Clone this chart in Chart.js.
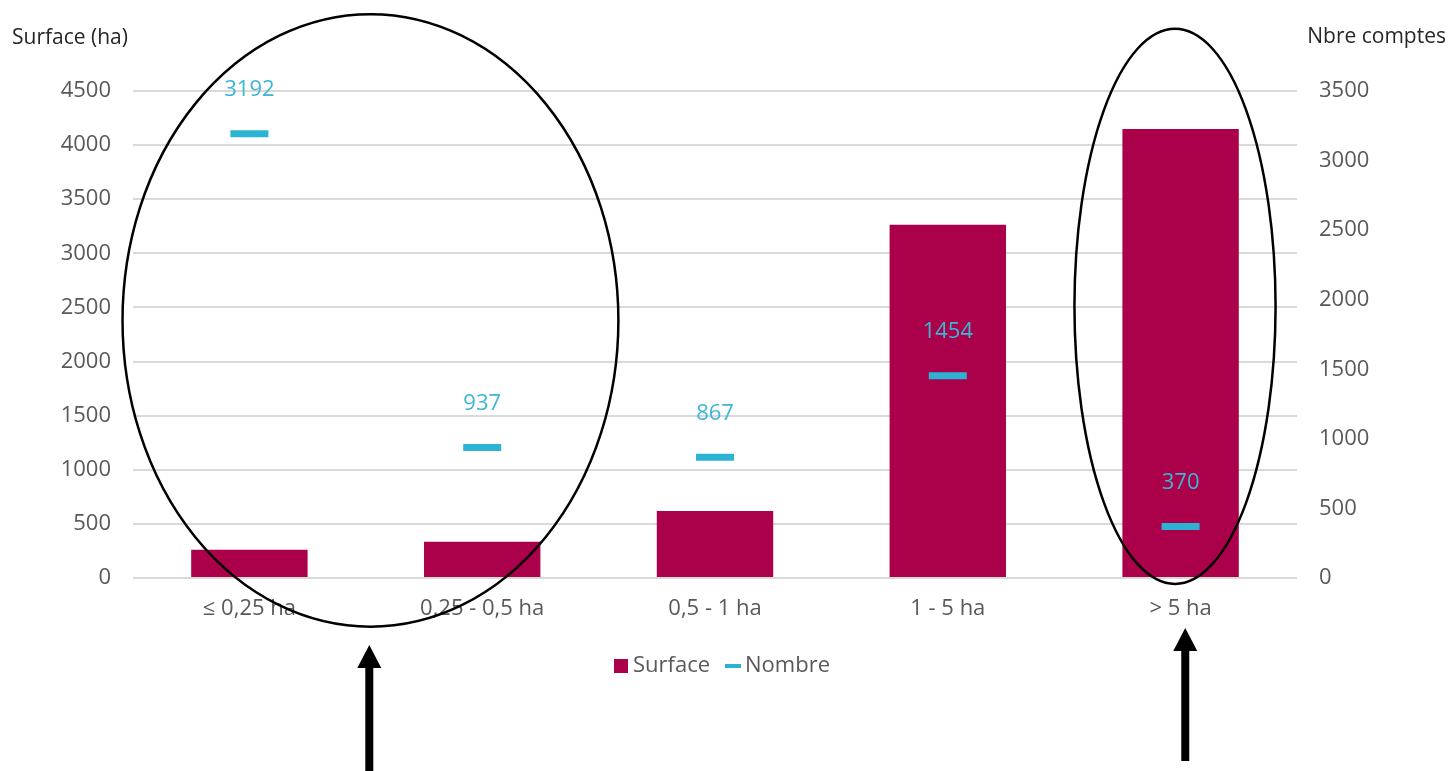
<!DOCTYPE html>
<html>
<head>
<meta charset="utf-8">
<script src="https://cdn.jsdelivr.net/npm/chart.js@4.4.1/dist/chart.umd.min.js"></script>
<style>
  html, body { margin: 0; padding: 0; background: #fff; }
</style>
</head>
<body>
<canvas id="chart" width="1450" height="771"></canvas>
<script>
// data
const categories = ["≤ 0,25 ha", "0,25 - 0,5 ha", "0,5 - 1 ha", "1 - 5 ha", "> 5 ha"];
const surface = [260, 335, 620, 3265, 4150];
const nombre = [3192, 937, 867, 1454, 370];
const surfaceTicks = [0, 500, 1000, 1500, 2000, 2500, 3000, 3500, 4000, 4500];
const nombreTicks = [0, 500, 1000, 1500, 2000, 2500, 3000, 3500];

// hand drawn notes, in category index / left axis units
const ellipses = [
  { cx: 0.52, cy: 2380, rx: 1.065, ry: 2830 },
  { cx: 3.976, cy: 2510, rx: 0.432, ry: 2565 },
];
const arrows = [
  { x: 0.515, tipBelow: 67, tail: 771 },
  { x: 4.02, tipBelow: 50, tail: 761 },
];

const MAGENTA = "#ab004a";
const CYAN = "#2cb3d3";
const GREY = "#595959";
const FONT = "'Open Sans', sans-serif";

function legendIcon(w, h, color) {
  const c = document.createElement("canvas");
  c.width = w;
  c.height = h;
  const g = c.getContext("2d");
  g.fillStyle = color;
  g.fillRect(0, 0, w, h);
  return c;
}
const squareIcon = legendIcon(14, 14, MAGENTA);
const dashIcon = legendIcon(16, 4, CYAN);

const notesPlugin = {
  id: "notes",
  afterDatasetsDraw(chart) {
    const ctx = chart.ctx;
    const meta = chart.getDatasetMeta(1);
    ctx.save();
    ctx.font = "22px " + FONT;
    ctx.fillStyle = "#3bb6d6";
    ctx.textAlign = "center";
    ctx.textBaseline = "middle";
    meta.data.forEach((pt, i) => {
      ctx.fillText(String(nombre[i]), pt.x, pt.y - 44);
    });
    ctx.restore();
  },
  afterDraw(chart) {
    const ctx = chart.ctx;
    const xs = chart.scales.x;
    const ys = chart.scales.y;
    const step = xs.getPixelForValue(1) - xs.getPixelForValue(0);
    const unit = (ys.getPixelForValue(0) - ys.getPixelForValue(1000)) / 1000;
    ctx.save();

    // axis titles
    ctx.font = "21px " + FONT;
    ctx.fillStyle = "#262626";
    ctx.textBaseline = "middle";
    ctx.textAlign = "left";
    ctx.fillText("Surface (ha)", 12, 38);
    ctx.textAlign = "right";
    ctx.fillText("Nbre comptes", 1446, 37);

    // ellipses
    ctx.strokeStyle = "#000";
    ctx.lineWidth = 2.5;
    ellipses.forEach(e => {
      ctx.beginPath();
      ctx.ellipse(xs.getPixelForValue(e.cx), ys.getPixelForValue(e.cy),
        e.rx * step, e.ry * unit, 0, 0, Math.PI * 2);
      ctx.stroke();
    });

    // arrows
    ctx.fillStyle = "#000";
    arrows.forEach(a => {
      const x = xs.getPixelForValue(a.x);
      const tip = ys.getPixelForValue(0) + a.tipBelow;
      ctx.fillRect(x - 4, tip + 20, 8, a.tail - tip - 20);
      ctx.beginPath();
      ctx.moveTo(x, tip);
      ctx.lineTo(x + 12, tip + 23);
      ctx.lineTo(x - 12, tip + 23);
      ctx.closePath();
      ctx.fill();
    });
    ctx.restore();
  }
};

const ctx = document.getElementById("chart").getContext("2d");
new Chart(ctx, {
  data: {
    labels: categories,
    datasets: [
      {
        type: "bar",
        label: "Surface",
        data: surface,
        yAxisID: "y",
        backgroundColor: MAGENTA,
        categoryPercentage: 1,
        barPercentage: 0.5,
        order: 1,
      },
      {
        type: "line",
        label: "Nombre",
        data: nombre,
        yAxisID: "y1",
        showLine: false,
        pointStyle: "line",
        pointRadius: 19,
        pointHoverRadius: 19,
        pointBorderWidth: 7,
        pointHoverBorderWidth: 7,
        pointBorderColor: CYAN,
        pointBackgroundColor: CYAN,
        order: 0,
      },
    ],
  },
  options: {
    responsive: false,
    animation: false,
    devicePixelRatio: 1,
    layout: { padding: { top: 91, bottom: 84, left: 0, right: 0 } },
    plugins: {
      tooltip: { enabled: false },
      legend: {
        position: "bottom",
        labels: {
          usePointStyle: true,
          pointStyleWidth: 2,
          boxHeight: 14,
          padding: 22,
          color: GREY,
          font: { family: FONT, size: 22 },
          generateLabels(chart) {
            const items = Chart.defaults.plugins.legend.labels.generateLabels(chart);
            items.sort((a, b) => a.datasetIndex - b.datasetIndex);
            items.forEach(it => {
              it.pointStyle = it.datasetIndex === 0 ? squareIcon : dashIcon;
            });
            return items;
          },
        },
      },
    },
    scales: {
      x: {
        grid: { display: false, drawTicks: false },
        border: { display: false },
        ticks: { color: GREY, font: { family: FONT, size: 22 }, padding: 18 },
        afterFit(scale) { scale.height = 55; },
      },
      y: {
        position: "left",
        min: surfaceTicks[0],
        max: surfaceTicks[surfaceTicks.length - 1],
        ticks: {
          stepSize: surfaceTicks[1] - surfaceTicks[0],
          color: GREY,
          font: { family: FONT, size: 22 },
          padding: 22,
          callback: v => String(v),
        },
        grid: { color: "#d9d9d9", lineWidth: 2, drawTicks: false },
        border: { display: false },
        afterFit(scale) { scale.width = 133; },
      },
      y1: {
        position: "right",
        min: nombreTicks[0],
        max: nombreTicks[nombreTicks.length - 1],
        ticks: {
          stepSize: nombreTicks[1] - nombreTicks[0],
          color: GREY,
          font: { family: FONT, size: 22 },
          padding: 22,
          callback: v => String(v),
        },
        grid: { drawOnChartArea: false, drawTicks: false },
        border: { display: false },
        afterFit(scale) { scale.width = 153; },
      },
    },
  },
  plugins: [notesPlugin],
});
</script>
</body>
</html>
